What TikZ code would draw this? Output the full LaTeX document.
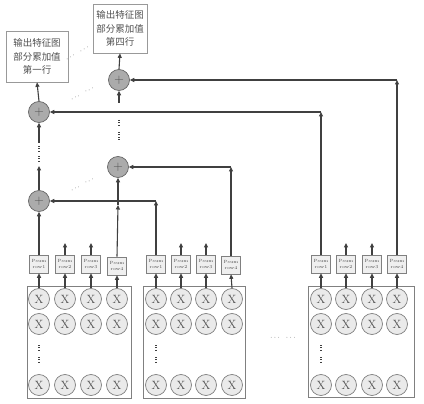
\documentclass[tikz,border=0pt]{standalone}
\usepackage{fontspec}
\newfontfamily\cjk{Noto Sans CJK SC}
\usetikzlibrary{arrows.meta}
\definecolor{linec}{HTML}{404040}
\definecolor{xfill}{HTML}{EAEAEA}
\definecolor{xdraw}{HTML}{808080}
\definecolor{afill}{HTML}{ABABAB}
\definecolor{adraw}{HTML}{666666}
\definecolor{pfill}{HTML}{EFEFEF}
\definecolor{txt}{HTML}{505050}
\begin{document}
\begin{tikzpicture}[x=1pt,y=-1pt,
  line/.style={draw=linec, line width=1.1pt},
  arr/.style={line, -{Triangle[length=4.5pt,width=4pt]}},
  xnode/.style={circle, draw=xdraw, fill=xfill, minimum size=21pt, inner sep=0pt, line width=0.7pt, text=txt, font=\fontsize{12}{12}\selectfont},
  adder/.style={circle, draw=adraw, fill=afill, minimum size=21pt, inner sep=0pt, line width=0.7pt, text=txt, font=\fontsize{13}{13}\selectfont},
  psum/.style={rectangle, draw=xdraw, fill=pfill, minimum width=19pt, minimum height=18pt, inner sep=0pt, align=center, line width=0.7pt, text=txt, font=\fontsize{4.5}{5.5}\selectfont},
  blockbox/.style={draw=xdraw, line width=0.8pt, inner sep=0pt},
  outbox/.style={draw=xdraw!80, line width=0.7pt, align=center, text=txt, inner sep=0pt, font=\cjk\fontsize{9.5}{13.5}\selectfont},
  vdots/.style={draw=linec, line width=1.1pt, dash pattern=on 1pt off 1.4pt},
  dotsnode/.style={text=linec, inner sep=0pt, font=\fontsize{7}{7}\selectfont}
]
\useasboundingbox (0,0) rectangle (424,404);

% blocks
\node[blockbox, minimum width=104pt, minimum height=112pt] (B1) at (79,342) {};
\node[blockbox, minimum width=102pt, minimum height=112pt] (B2) at (194,342) {};
\node[blockbox, minimum width=106pt, minimum height=111pt] (B3) at (361,341.5) {};

% X circles
\foreach \b/\xa/\xb/\xc/\xd in {1/39/65/91/117, 2/156/181/206/232, 3/321/346/372/397}{
  \foreach \c/\x in {1/\xa,2/\xb,3/\xc,4/\xd}{
    \node[xnode] (X\b\c a) at (\x,299) {X};
    \node[xnode] (X\b\c b) at (\x,324) {X};
    \node[xnode] (X\b\c c) at (\x,385) {X};
  }
  \draw[vdots] (\xa,345) -- (\xa,352);
  \draw[vdots] (\xa,357) -- (\xa,364);
}

% Psum boxes
\foreach \b/\xa/\xb/\xc/\xd/\ya in {1/39/65/91/117/266, 2/156/181/206/231/265, 3/321/346/372/397/264}{
  \node[psum] (P\b1) at (\xa,264) {Psum\\row1};
  \node[psum] (P\b2) at (\xb,264) {Psum\\row2};
  \node[psum] (P\b3) at (\xc,264) {Psum\\row3};
  \node[psum] (P\b4) at (\xd,\ya) {Psum\\row4};
  \foreach \c in {1,2,3,4}{
    \draw[arr] (X\b\c a.north) -- (P\b\c.south);
  }
  \coordinate (U\b2) at (\xb,243);
  \coordinate (U\b3) at (\xc,243);
  \draw[arr] (P\b2.north) -- (U\b2);
  \draw[arr] (P\b3.north) -- (U\b3);
}

% adders
\node[adder] (A1) at (39,201) {+};
\node[adder] (A2) at (118,167) {+};
\node[adder] (A3) at (39,112) {+};
\node[adder] (A4) at (119,80) {+};

% output boxes
\node[outbox, minimum width=62pt, minimum height=51pt] (OL) at (37,56.5) {输出特征图\\部分累加值\\第一行};
\node[outbox, minimum width=54pt, minimum height=49pt] (OR) at (120,28.5) {输出特征图\\部分累加值\\第四行};

% corners
\coordinate (C1) at (156,201);
\coordinate (C2) at (231,167);
\coordinate (C3) at (321,112);
\coordinate (C4) at (397,80);
\coordinate (M1) at (118,205);
\coordinate (D1) at (39,166);
\coordinate (D2) at (39,143);
\coordinate (D3) at (119,103);

% connections
\draw[arr] (P11.north) -- (A1.south);
\draw[arr] (P21.north) -- (C1);
\draw[arr] (C1) -- (A1.east);
\draw[arr] (P14.north) -- (M1);
\draw[arr] (M1) -- (A2.south);
\draw[arr] (P24.north) -- (C2);
\draw[arr] (C2) -- (A2.east);
\draw[arr] (P31.north) -- (C3);
\draw[arr] (C3) -- (A3.east);
\draw[arr] (P34.north) -- (C4);
\draw[arr] (C4) -- (A4.east);
\draw[arr] (A1.north) -- (D1);
\draw[vdots] (39,146) -- (39,151);
\draw[vdots] (39,156) -- (39,162);
\draw[arr] (D2) -- (A3.south);
\draw[vdots] (119,120) -- (119,126);
\draw[vdots] (119,132) -- (119,140);
\draw[arr] (D3) -- (A4.south);
\draw[arr] (A3.north) -- (OL.south);
\draw[arr] (A4.north) -- (OR.south);

% ellipses
\node[dotsnode, rotate=30] (E1) at (77.5,53.5) {$\cdots\;\;\cdots$};
\node[dotsnode, rotate=30] (E2) at (82.5,94) {$\cdots\;\;\cdots$};
\node[dotsnode, rotate=30] (E3) at (82.5,185) {$\cdots\;\;\cdots$};
\node[dotsnode] (E4) at (283,338) {$\cdots\;\;\cdots$};
\end{tikzpicture}
\end{document}
